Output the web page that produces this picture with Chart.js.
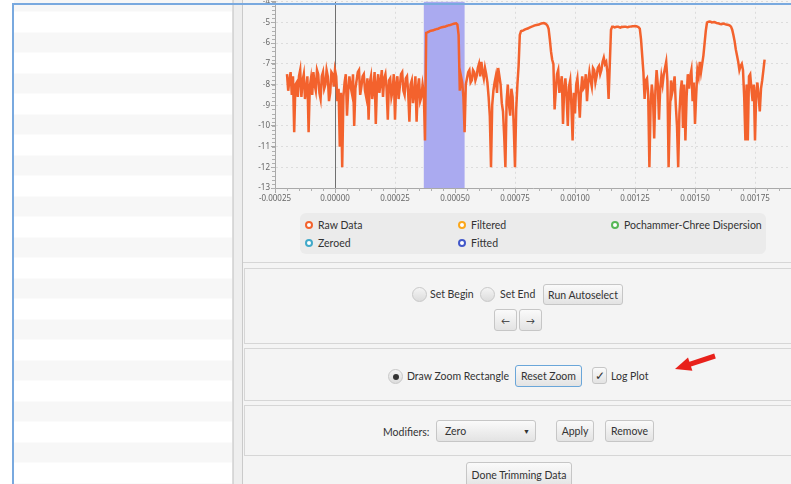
<!DOCTYPE html>
<html>
<head>
<meta charset="utf-8">
<script src="https://cdn.jsdelivr.net/npm/chart.js@4.4.1/dist/chart.umd.min.js"></script>
<style>
  html, body { margin: 0; padding: 0; }
  body { width: 791px; height: 484px; overflow: hidden; position: relative; background: #fff;
         font-family: "Lato", "Noto Sans", sans-serif; font-size: 10.5px; color: #333; }
  .abs { position: absolute; box-sizing: border-box; }
  #frame { left: 12px; top: 3px; width: 800px; height: 500px; border-top: 2px solid #79a9df;
           border-left: 2px solid #79a9df; z-index: 20; pointer-events: none; }
  #list { left: 14px; top: 0; width: 219px; height: 484px; border-right: 1px solid #dcdcdc;
          background: repeating-linear-gradient(to bottom, #fff 0 20.5px, #f7f7f7 20.5px 41px);
          background-position: 0 11.5px; }
  #divider { left: 233px; top: 0; width: 10px; height: 484px; background: #eeeeee;
             border-left: 1px solid #d6d6d6; border-right: 1px solid #cacaca; }
  #pane { left: 243px; top: 0; width: 548px; height: 484px; background: #f4f4f4; }
  #chartSep { left: 243px; top: 262px; width: 548px; height: 1px; background: #d6d6d6; }
  #chartBox { left: 243px; top: -4px; width: 548px; height: 210px; }
  #legend { left: 300px; top: 213px; width: 466px; height: 41px; background: #ebebeb; border-radius: 6px;
            display: grid; grid-template-columns: 153px 153px 160px; grid-auto-rows: 18px;
            padding: 3px 0 0 5px; font-size: 10.5px; }
  .item { display: flex; align-items: center; white-space: nowrap; }
  .dot { width: 8px; height: 8px; border-radius: 50%; box-sizing: border-box; border: 2px solid;
         background: #fff; margin-right: 5px; }
  .panel { left: 244px; width: 560px; border: 1px solid #d6d6d6; background: #f4f4f4; }
  .btn { position: absolute; box-sizing: border-box; border: 1px solid #c6c6c6; border-radius: 3px;
         background: linear-gradient(#fafafa, #e3e3e3); display: flex; align-items: center;
         justify-content: center; color: #333; white-space: nowrap; }
  .lbl { position: absolute; line-height: 14px; white-space: nowrap; }
  .radio { position: absolute; width: 15px; height: 15px; border-radius: 50%; box-sizing: border-box;
           border: 1px solid #c8c8c8; background: linear-gradient(#f4f4f4, #dcdcdc); }
</style>
</head>
<body>
<div id="list" class="abs"></div>
<div id="divider" class="abs"></div>
<div id="pane" class="abs"></div>
<div id="chartBox" class="abs"><canvas id="trimChart"></canvas></div>
<div id="chartSep" class="abs"></div>
<div id="legend" class="abs"></div>

<div class="abs panel" style="top:268px;height:76px;"></div>
<div class="abs panel" style="top:348px;height:53px;"></div>
<div class="abs panel" style="top:405px;height:51px;"></div>

<div class="radio" style="left:412px;top:287px;"></div>
<div class="lbl" style="left:430px;top:287px;">Set Begin</div>
<div class="radio" style="left:480px;top:287px;"></div>
<div class="lbl" style="left:500px;top:287px;">Set End</div>
<div class="btn" style="left:543px;top:284px;width:80px;height:21px;">Run Autoselect</div>
<div class="btn" style="left:494px;top:309px;width:23px;height:22px;font-size:9px;">&larr;</div>
<div class="btn" style="left:519px;top:309px;width:23px;height:22px;font-size:9px;">&rarr;</div>

<div class="radio" style="left:388px;top:369px;"><div style="position:absolute;left:3.5px;top:3.5px;width:6px;height:6px;border-radius:50%;background:#333;"></div></div>
<div class="lbl" style="left:407px;top:369px;">Draw Zoom Rectangle</div>
<div class="btn" style="left:515px;top:365px;width:67px;height:22px;border:1.5px solid #6aa6d9;">Reset Zoom</div>
<div class="btn" style="left:592px;top:367px;width:15px;height:17px;font-size:12px;">&#10003;</div>
<div class="lbl" style="left:611px;top:369px;">Log Plot</div>
<svg class="abs" style="left:670px;top:345px;" width="50" height="35">
  <line x1="45" y1="11" x2="18" y2="19.8" stroke="#e8211b" stroke-width="5"/>
  <polygon points="5,24 18,12.4 22.4,25.8" fill="#e8211b"/>
</svg>

<div class="lbl" style="left:383px;top:425px;">Modifiers:</div>
<div class="btn" style="left:436px;top:420px;width:100px;height:22px;justify-content:flex-start;padding-left:8px;">Zero<span style="position:absolute;left:86px;font-size:7px;">&#9660;</span></div>
<div class="btn" style="left:556px;top:420px;width:38px;height:22px;">Apply</div>
<div class="btn" style="left:605px;top:420px;width:49px;height:22px;">Remove</div>
<div class="btn" style="left:466px;top:462px;width:106px;height:26px;">Done Trimming Data</div>

<div id="frame" class="abs"></div>

<script>
// log10 amplitude of the raw signal, one value per sample
const sampleStart = -0.0002;
const sampleStep = 0.000005;
const rawLog = [
  -7.5, -8.3, -7.8, -7.4, -8.5, -7.6, -10.3, -8.0, -7.9, -8.6,
  -7.6, -7.3, -8.6, -7.8, -7.5, -8.7, -8.2, -7.6, -10.3, -8.1,
  -7.7, -8.5, -7.4, -8.0, -8.3, -7.3, -7.5, -8.4, -8.7, -7.6,
  -7.4, -8.2, -8.0, -7.3, -7.6, -8.8, -8.4, -7.4, -7.5, -8.1,
  -7.3, -7.6, -8.8, -8.2, -11.0, -8.4, -12.0, -8.6, -7.9, -7.5,
  -9.5, -8.3, -7.6, -8.1, -8.4, -7.5, -10.0, -8.2, -7.8, -7.4,
  -7.3, -8.5, -8.1, -7.6, -7.5, -8.3, -8.6, -7.7, -9.7, -7.9,
  -7.6, -8.7, -8.2, -7.4, -9.9, -8.0, -7.5, -8.4, -7.9, -7.3,
  -8.6, -7.7, -7.5, -8.2, -9.7, -7.8, -7.7, -8.6, -8.3, -7.5,
  -9.7, -8.0, -7.6, -8.7, -8.1, -7.5, -7.4, -8.3, -8.5, -7.7,
  -7.6, -8.4, -9.8, -8.0, -7.8, -8.9, -8.4, -7.6, -9.8, -8.2,
  -7.7, -8.8, -8.6, -8.0, -8.4, -10.7, -5.5, -5.48, -5.45, -5.42,
  -5.4, -5.39, -5.38, -5.35, -5.33, -5.31, -5.3, -5.27, -5.25, -5.23,
  -5.22, -5.21, -5.2, -5.17, -5.15, -5.13, -5.12, -5.1, -5.08, -5.06,
  -5.05, -5.04, -5.1, -5.6, -8.3, -7.6, -7.9, -8.6, -10.3, -8.0,
  -7.7, -7.4, -7.3, -7.9, -7.8, -7.3, -7.4, -7.8, -7.6, -7.2,
  -7.0, -7.6, -6.9, -7.4, -7.7, -7.2, -7.5, -7.9, -8.6, -9.5,
  -12.0, -9.0, -8.3, -7.9, -7.6, -8.4, -7.2, -7.6, -8.0, -8.9,
  -9.3, -10.5, -12.0, -8.8, -8.0, -9.0, -9.5, -8.2, -8.6, -10.1,
  -12.0, -9.2, -8.0, -7.1, -5.6, -5.42, -5.4, -5.38, -5.35, -5.32,
  -5.3, -5.28, -5.25, -5.22, -5.2, -5.18, -5.15, -5.13, -5.12, -5.11,
  -5.1, -5.07, -5.05, -5.04, -5.03, -5.05, -5.08, -5.15, -5.3, -5.8,
  -6.4, -6.8, -7.0, -9.2, -8.3, -7.5, -7.3, -8.4, -8.0, -7.6,
  -9.9, -8.2, -7.7, -8.6, -10.0, -8.1, -7.8, -9.0, -10.7, -8.4,
  -9.4, -8.0, -7.7, -8.5, -9.6, -8.3, -7.6, -8.2, -8.1, -7.5,
  -8.8, -7.9, -7.4, -7.8, -8.1, -7.2, -7.3, -7.9, -7.6, -7.2,
  -7.1, -7.5, -7.3, -6.9, -6.7, -7.0, -6.9, -7.4, -8.7, -7.0,
  -5.35, -5.2, -5.2, -5.24, -5.22, -5.2, -5.2, -5.23, -5.25, -5.21,
  -5.22, -5.2, -5.2, -5.22, -5.23, -5.21, -5.2, -5.19, -5.18, -5.18,
  -5.17, -5.18, -5.2, -5.23, -5.3, -5.8, -6.6, -7.4, -8.7, -7.8,
  -7.7, -8.5, -12.0, -9.0, -8.0, -8.6, -10.6, -8.3, -7.3, -8.0,
  -9.7, -8.2, -7.6, -8.0, -7.5, -7.2, -6.9, -7.8, -12.0, -9.5,
  -7.8, -8.4, -8.1, -7.6, -9.0, -10.0, -12.0, -9.4, -8.3, -7.8,
  -10.1, -8.0, -10.7, -8.6, -7.5, -8.2, -7.6, -7.3, -8.8, -7.9,
  -9.9, -8.5, -7.3, -7.6, -6.9, -7.4, -7.0, -6.6, -6.0, -5.4,
  -5.0, -4.97, -4.95, -4.96, -5.0, -4.99, -4.98, -5.0, -5.03, -5.04,
  -5.05, -5.07, -5.08, -5.06, -5.05, -5.08, -5.1, -5.11, -5.12, -5.15,
  -5.2, -5.35, -5.6, -5.9, -6.3, -6.6, -6.9, -7.3, -7.1, -7.0,
  -7.3, -8.6, -10.7, -8.0, -10.7, -7.6, -7.5, -8.2, -8.8, -8.0,
  -10.7, -8.4, -7.9, -8.6, -9.3, -8.2, -7.8, -7.3, -6.8
];
const seriesNames = ["Raw Data", "Filtered", "Pochammer-Chree Dispersion", "Zeroed", "Fitted"];
const seriesColors = ["#f3622d", "#fba71b", "#57b757", "#41a9c9", "#4258c9"];
const xTicks = [-0.00025, 0, 0.00025, 0.0005, 0.00075, 0.001, 0.00125, 0.0015, 0.00175];
const yTicks = [-13, -12, -11, -10, -9, -8, -7, -6, -5, -4];
const selection = [0.00037, 0.00054];

const rawPoints = rawLog.map((v, i) => ({ x: sampleStart + i * sampleStep, y: v }));

const datasets = seriesNames.map((name, i) => ({
  label: name,
  data: i === 0 ? rawPoints : [],
  borderColor: seriesColors[i],
  backgroundColor: seriesColors[i],
  borderWidth: 2.5,
  pointRadius: 0,
  tension: 0
}));

// selection band, zero line and minor ticks (JavaFX style)
const extras = {
  id: "extras",
  beforeDatasetsDraw(chart) {
    const { ctx, chartArea: a, scales: { x } } = chart;
    ctx.save();
    const x0 = x.getPixelForValue(selection[0]);
    const x1 = x.getPixelForValue(selection[1]);
    ctx.fillStyle = "#aaaaf0";
    ctx.fillRect(x0, a.top, x1 - x0, a.bottom - a.top);
    const z = Math.round(x.getPixelForValue(0)) + 0.5;
    ctx.strokeStyle = "#707070";
    ctx.lineWidth = 1;
    ctx.beginPath(); ctx.moveTo(z, a.top); ctx.lineTo(z, a.bottom); ctx.stroke();
    ctx.restore();
  },
  afterDraw(chart) {
    const { ctx, chartArea: a, scales: { x, y } } = chart;
    ctx.save();
    ctx.strokeStyle = "#b0b0b0";
    ctx.lineWidth = 1;
    ctx.beginPath();
    const xs = (xTicks[1] - xTicks[0]) / 5;
    for (let v = xTicks[0]; v <= x.max; v += xs) {
      const p = Math.round(x.getPixelForValue(v)) + 0.5;
      ctx.moveTo(p, a.bottom); ctx.lineTo(p, a.bottom + 3);
    }
    const ys = (yTicks[1] - yTicks[0]) / 5;
    for (let v = yTicks[0]; v <= y.max; v += ys) {
      const p = Math.round(y.getPixelForValue(v)) + 0.5;
      ctx.moveTo(a.left - 3, p); ctx.lineTo(a.left, p);
    }
    ctx.stroke();
    ctx.restore();
  }
};

const tickFont = { family: "Noto Sans", size: 8 };

const chart = new Chart(document.getElementById("trimChart"), {
  type: "line",
  data: { datasets: datasets },
  options: {
    responsive: true,
    maintainAspectRatio: false,
    animation: false,
    layout: { padding: 0 },
    plugins: { legend: { display: false }, tooltip: { enabled: false } },
    scales: {
      x: {
        type: "linear",
        min: -0.00025,
        max: 0.0019,
        afterBuildTicks: s => { s.ticks = xTicks.map(v => ({ value: v })); },
        afterFit: s => { s.height = 18; },
        ticks: { color: "#666", font: tickFont, padding: 1, maxRotation: 0, autoSkip: false,
                 callback: v => v.toFixed(5) },
        grid: { color: "#dcdcdc", tickColor: "#a9a9a9", tickLength: 5 },
        border: { color: "#a9a9a9", dash: [2, 3] }
      },
      y: {
        min: -13,
        max: -4,
        afterBuildTicks: s => { s.ticks = yTicks.map(v => ({ value: v })); },
        afterFit: s => { s.width = 32; },
        ticks: { color: "#666", font: tickFont, padding: 1, callback: v => String(v) },
        grid: { color: "#dcdcdc", tickColor: "#a9a9a9", tickLength: 4 },
        border: { color: "#a9a9a9", dash: [2, 3] }
      }
    }
  },
  plugins: [extras]
});

// legend built from the chart's own datasets
const legendEl = document.getElementById("legend");
chart.data.datasets.forEach(ds => {
  const item = document.createElement("div");
  item.className = "item";
  item.innerHTML = '<span class="dot" style="border-color:' + ds.borderColor + '"></span>' + ds.label;
  legendEl.appendChild(item);
});
</script>
</body>
</html>
